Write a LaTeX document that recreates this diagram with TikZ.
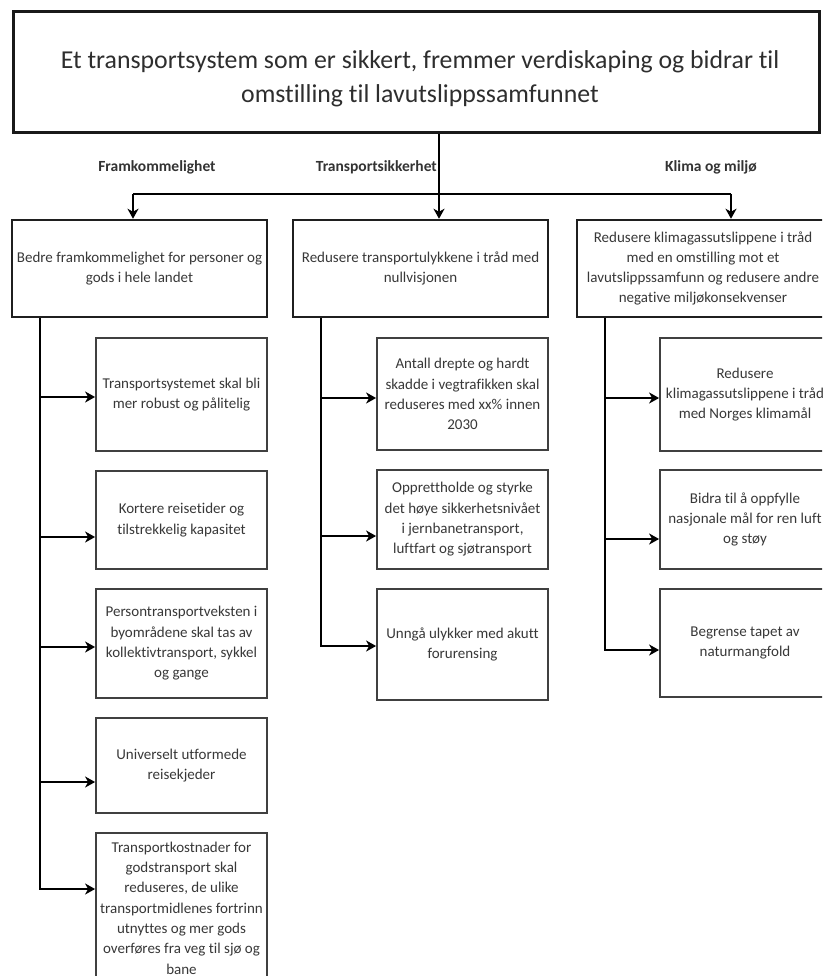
\documentclass[tikz,border=0pt]{standalone}
\usepackage{fontspec}
\setmainfont{Carlito}[Ligatures=NoCommon]
\usetikzlibrary{arrows.meta}
\begin{document}
\begin{tikzpicture}[x=1pt,y=-1pt,
  topbox/.style={draw=black!90,line width=3pt,inner sep=0pt},
  toptext/.style={inner sep=0pt,align=center,text=black!82,font=\fontsize{25.8}{34}\selectfont},
  midbox/.style={draw=black!88,line width=2.5pt,inner sep=0pt,align=center,text=black!78,font=\fontsize{15}{20}\selectfont},
  leafbox/.style={draw=black!75,line width=1.8pt,inner sep=0pt,align=center,text=black!78,font=\fontsize{15}{20.3}\selectfont},
  lbl/.style={inner sep=0pt,text=black!80,font=\fontsize{15.5}{18}\selectfont\bfseries},
  conn/.style={line width=2.8pt,black},
  arr/.style={conn,-{Stealth[length=10pt,width=11pt,inset=3pt]}}
]
\useasboundingbox (0,0) rectangle (822,976);
\fill[white] (0,0) rectangle (822,976);
\clip (0,0) rectangle (822,976);

% top box
\node[topbox,minimum width=806pt,minimum height=121pt] (top) at (416,72.5) {};
\node[toptext] (toptxt) at (420,79)
  {Et transportsystem som er sikkert, fremmer verdiskaping og bidrar til\\omstilling til lavutslippssamfunnet};

% labels
\node[lbl] (l1) at (157,167) {Framkommelighet};
\node[lbl,anchor=east] (l2) at (437,167) {Transportsikkerhet};
\node[lbl] (l3) at (711,167) {Klima og miljø};

% level 2 boxes
\node[midbox,minimum width=255pt,minimum height=97pt] (A) at (139.5,268.5)
  {Bedre framkommelighet for personer og\\gods i hele landet};
\node[midbox,minimum width=255pt,minimum height=97pt] (B) at (420.5,268.5)
  {Redusere transportulykkene i tråd med\\nullvisjonen};
\node[midbox,minimum width=252pt,minimum height=97pt] (C) at (703,268.5)
  {Redusere klimagassutslippene i tråd\\med en omstilling mot et\\lavutslippssamfunn og redusere andre\\negative miljøkonsekvenser};

% level 3, column A
\node[leafbox,minimum width=171pt,minimum height=113pt] (A1) at (181.5,394.5)
  {Transportsystemet skal bli\\mer robust og pålitelig};
\node[leafbox,minimum width=171pt,minimum height=98pt] (A2) at (181.5,520)
  {Kortere reisetider og\\tilstrekkelig kapasitet};
\node[leafbox,minimum width=171pt,minimum height=109pt] (A3) at (181.5,643.5)
  {Persontransportveksten i\\byområdene skal tas av\\kollektivtransport, sykkel\\og gange};
\node[leafbox,minimum width=171pt,minimum height=95pt] (A4) at (181.5,765.5)
  {Universelt utformede\\reisekjeder};
\node[leafbox,minimum width=171pt,minimum height=150pt] (A5) at (181.5,908)
  {Transportkostnader for\\godstransport skal\\reduseres, de ulike\\transportmidlenes fortrinn\\utnyttes og mer gods\\overføres fra veg til sjø og\\bane};

% level 3, column B
\node[leafbox,minimum width=171pt,minimum height=112pt] (B1) at (462.5,394)
  {Antall drepte og hardt\\skadde i vegtrafikken skal\\reduseres med xx\% innen\\2030};
\node[leafbox,minimum width=171pt,minimum height=99pt] (B2) at (462.5,519.5)
  {Opprettholde og styrke\\det høye sikkerhetsnivået\\i jernbanetransport,\\luftfart og sjøtransport};
\node[leafbox,minimum width=171pt,minimum height=111pt] (B3) at (462.5,644.5)
  {Unngå ulykker med akutt\\forurensing};

% level 3, column C
\node[leafbox,minimum width=170pt,minimum height=113pt] (C1) at (745,394.5)
  {Redusere\\klimagassutslippene i tråd\\med Norges klimamål};
\node[leafbox,minimum width=170pt,minimum height=99pt] (C2) at (745,519.5)
  {Bidra til å oppfylle\\nasjonale mål for ren luft\\og støy};
\node[leafbox,minimum width=170pt,minimum height=108pt] (C3) at (745,643)
  {Begrense tapet av\\naturmangfold};

% top connectors
\coordinate (hub) at (439,194);
\coordinate (hl) at (133,194);
\coordinate (hr) at (731,194);
\draw[arr] (top.south -| hub) -- (hub |- B.north);
\draw[conn] (hl) -- (hr);
\draw[arr] (hl) -- (hl |- A.north);
\draw[arr] (hr) -- (hr |- C.north);

% column A spine
\coordinate (a1) at (40,397);
\coordinate (a2) at (40,537);
\coordinate (a3) at (40,647);
\coordinate (a4) at (40,782);
\coordinate (a5) at (40,889);
\draw[arr] (a1 |- A.south) |- (a5 -| A5.west);
\foreach \k in {1,2,3,4}{\draw[arr] (a\k) -- (a\k -| A\k.west);}

% column B spine
\coordinate (b1) at (321,398);
\coordinate (b2) at (321,536);
\coordinate (b3) at (321,646);
\draw[arr] (b1 |- B.south) |- (b3 -| B3.west);
\foreach \k in {1,2}{\draw[arr] (b\k) -- (b\k -| B\k.west);}

% column C spine
\coordinate (c1) at (605,398);
\coordinate (c2) at (605,539);
\coordinate (c3) at (605,650);
\draw[arr] (c1 |- C.south) |- (c3 -| C3.west);
\foreach \k in {1,2}{\draw[arr] (c\k) -- (c\k -| C\k.west);}
\end{tikzpicture}
\end{document}
